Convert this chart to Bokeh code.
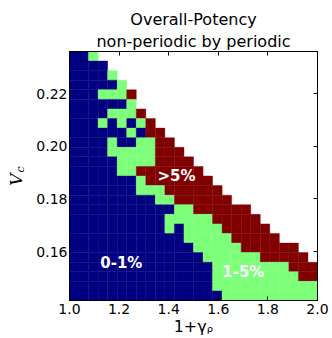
import math
from bokeh.plotting import figure
from bokeh.models import Label, LinearAxis, FixedTicker, Range1d, ColumnDataSource, Title
from bokeh.embed import file_html
from bokeh.resources import INLINE

# ---- data -------------------------------------------------------------
gamma_ticks = [1.0, 1.2, 1.4, 1.6, 1.8, 2.0]
gamma_tick_labels = ["1.0", "1.2", "1.4", "1.6", "1.8", "2.0"]
vc_ticks = [0.16, 0.18, 0.20, 0.22]
vc_tick_labels = ["0.16", "0.18", "0.20", "0.22"]

# image extent (x: 1+gamma_rho, y: V_c)
gamma_min, gamma_max = 1.0, 2.0
vc_min, vc_max = 0.1414, 0.2360
n_cols = 26

category_names = ["0-1%", "1-5%", ">5%"]
category_colors = ["#000080", "#7dff7a", "#800000"]

title_lines = ["Overall-Potency", "non-periodic by periodic"]
x_label = "1+γᵨ"
y_label_main, y_label_sub = "V", "c"

# rows from top (high V_c) to bottom; '0' = 0-1%, '1' = 1-5%, '2' = >5%,
# cells beyond the written part of a row have no data (white)
grid_rows = [
    "001",
    "0000",
    "00001",
    "000001",
    "0001112",
    "0000001",
    "00001112",
    "000101012",
    "0000001022",
    "00001001122",
    "000011111222",
    "0000011112222",
    "00000112222222",
    "000000012222222",
    "0000000111222222",
    "00000000011222222",
    "0000000000011222222",
    "00000000001111122222",
    "000000000010111122222",
    "0000000000001111122222",
    "000000000000011111222222",
    "0000000000000011111122222",
    "00000000000000011111111222",
    "00000000000000011111111122",
    "00000000000000011111111111",
    "00000000000000001111111111",
]

# ---- build cells ------------------------------------------------------
n_rows = len(grid_rows)
dx = (gamma_max - gamma_min) / n_cols
dy = (vc_max - vc_min) / n_rows
left, right, top, bottom, colors = [], [], [], [], []
for r, row in enumerate(grid_rows):
    row = row.ljust(n_cols, ".")
    for c, ch in enumerate(row):
        if ch == ".":
            continue
        left.append(gamma_min + c * dx)
        right.append(gamma_min + (c + 1) * dx)
        top.append(vc_max - r * dy)
        bottom.append(vc_max - (r + 1) * dy)
        colors.append(category_colors[int(ch)])

src = ColumnDataSource(dict(left=left, right=right, top=top, bottom=bottom, color=colors))

FONT = "DejaVu Sans"

p = figure(width=332, height=338, x_range=Range1d(gamma_min, gamma_max),
           y_range=Range1d(vc_min, vc_max), output_backend="svg",
           toolbar_location=None, title=None,
           min_border_left=68, min_border_right=15, min_border_top=51,
           min_border_bottom=38)
p.background_fill_color = "white"
p.border_fill_color = "white"
p.outline_line_color = "black"
p.xgrid.visible = False
p.ygrid.visible = False

p.quad(left="left", right="right", top="top", bottom="bottom", source=src,
       fill_color="color", line_color="color", line_width=0.4)


def style_axis(ax, show_labels, standoff):
    ax.axis_line_color = "black"
    ax.axis_line_width = 1
    ax.major_tick_in = 4
    ax.major_tick_out = 0
    ax.major_tick_line_color = "black"
    ax.major_tick_line_width = 1
    ax.minor_tick_line_color = None
    ax.major_label_text_font = FONT
    if show_labels:
        ax.major_label_text_color = "black"
        ax.major_label_text_font_size = "14px"
        ax.major_label_standoff = standoff
    else:
        ax.major_label_text_color = None
        ax.major_label_text_font_size = "0px"
        ax.major_label_standoff = 0


p.xaxis.ticker = FixedTicker(ticks=gamma_ticks)
p.xaxis.major_label_overrides = {t: s for t, s in zip(gamma_ticks, gamma_tick_labels)}
p.yaxis.ticker = FixedTicker(ticks=vc_ticks)
p.yaxis.major_label_overrides = {t: s for t, s in zip(vc_ticks, vc_tick_labels)}
for ax in p.xaxis:
    style_axis(ax, True, 3)
    ax.axis_label = x_label
    ax.axis_label_text_font = FONT
    ax.axis_label_text_font_style = "normal"
    ax.axis_label_text_font_size = "16px"
    ax.axis_label_text_color = "black"
    ax.axis_label_standoff = 0
for ax in p.yaxis:
    style_axis(ax, True, 2)

top_axis = LinearAxis(ticker=FixedTicker(ticks=gamma_ticks))
style_axis(top_axis, False, 0)
p.add_layout(top_axis, "above")
right_axis = LinearAxis(ticker=FixedTicker(ticks=vc_ticks))
style_axis(right_axis, False, 0)
p.add_layout(right_axis, "right")

# two-line title
p.add_layout(Title(text=title_lines[1], align="center", text_font=FONT,
                   text_font_size="16px", text_font_style="normal",
                   text_color="black", standoff=2), "above")
p.add_layout(Title(text=title_lines[0], align="center", text_font=FONT,
                   text_font_size="16px", text_font_style="normal",
                   text_color="black", standoff=0), "above")


# pixel -> data helpers (frame: x 68..317, y 51..300)
def X(px):
    return gamma_min + (px - 68) * (gamma_max - gamma_min) / 249.0


def Y(py):
    return vc_max - (py - 51) * (vc_max - vc_min) / 249.0


# y axis label V_c (rotated), placed in the left side panel so it is not clipped
p.add_layout(Label(x=X(14), y=Y(179), text=y_label_main, text_align="center",
                   text_baseline="middle", angle=math.pi / 2,
                   text_font="DejaVu Serif", text_font_style="italic",
                   text_font_size="17px", text_color="black"), "left")
p.add_layout(Label(x=X(19), y=Y(169), text=y_label_sub, text_align="center",
                   text_baseline="middle", angle=math.pi / 2,
                   text_font="DejaVu Serif", text_font_style="italic",
                   text_font_size="11px", text_color="black"), "left")

# region labels
region_label_pos = [(120, 262), (242.5, 271.5), (175.5, 175)]
for (px, py), t in zip(region_label_pos, category_names):
    p.add_layout(Label(x=X(px), y=Y(py), text=t, text_align="center",
                       text_baseline="middle", text_font=FONT,
                       text_font_style="bold", text_font_size="15px",
                       text_color="white"))

open("out.html", "w").write(file_html(p, INLINE))
